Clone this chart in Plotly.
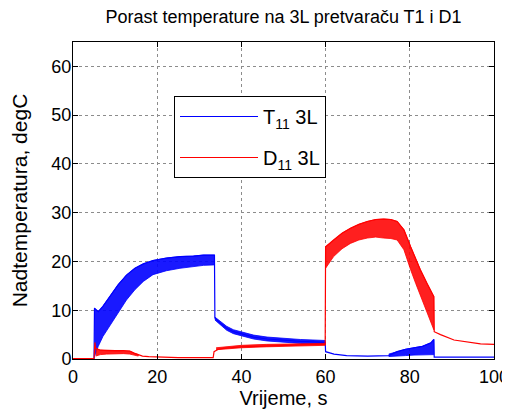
import plotly.graph_objects as go

# ---------------- data ----------------
x_ticks = [0, 20, 40, 60, 80, 100]
x_tick_labels = ["0", "20", "40", "60", "80", "100"]
y_ticks = [0, 10, 20, 30, 40, 50, 60]
y_tick_labels = ["0", "10", "20", "30", "40", "50", "60"]

series_names = ["T<sub>11</sub> 3L", "D<sub>11</sub> 3L"]

# T11 3L (blue) - main trace path
T11_t = [0, 5.0, 5.1, 6.0, 7.1, 8.7, 10.7, 12.7, 14.7, 16.7, 19.0, 22.2, 25.4, 28.6, 31.0, 33.6,
         33.7, 34.9, 36.5, 38.1, 40.1, 42.9, 46.1, 50.0, 54.0, 59.9,
         60.0, 62.0, 65.0, 70.0, 75.0, 77.0, 79.0, 81.0, 83.0, 85.0, 85.7, 85.8, 100.0]
T11_y = [0.1, 0.1, 10.4, 9.7, 10.8, 12.8, 15.2, 17.2, 18.6, 19.5, 20.2, 20.7, 21.0, 21.1, 21.3, 21.3,
         8.4, 7.4, 6.3, 5.6, 5.1, 4.5, 4.1, 3.8, 3.6, 3.4,
         1.5, 1.0, 0.7, 0.6, 0.7, 1.5, 2.0, 2.3, 2.6, 3.3, 4.0, 0.4, 0.4]

# T11 oscillation bands (time, upper envelope, lower envelope)
T11_band1_t = [5.1, 6.0, 7.1, 8.7, 10.7, 12.7, 14.7, 16.7, 19.0, 22.2, 25.4, 28.6, 31.0, 33.6]
T11_band1_hi = [10.4, 9.7, 10.8, 12.8, 15.2, 17.2, 18.6, 19.5, 20.2, 20.7, 21.0, 21.1, 21.3, 21.3]
T11_band1_lo = [0.5, 2.6, 4.6, 6.7, 9.4, 12.1, 14.2, 15.9, 17.3, 18.1, 18.6, 19.0, 19.2, 19.3]

T11_band2_t = [33.7, 34.9, 36.5, 38.1, 40.1, 42.9, 46.1, 50.0, 54.0, 59.9]
T11_band2_hi = [8.6, 7.8, 6.7, 6.0, 5.5, 4.9, 4.5, 4.2, 4.0, 3.8]
T11_band2_lo = [8.0, 7.0, 5.9, 5.2, 4.7, 4.1, 3.7, 3.4, 3.2, 3.0]

T11_band3_t = [75.0, 77.0, 79.0, 81.0, 83.0, 85.0, 85.7]
T11_band3_hi = [1.0, 1.5, 2.0, 2.3, 2.6, 3.3, 4.0]
T11_band3_lo = [0.5, 0.6, 0.7, 0.8, 0.8, 0.9, 0.9]

# D11 3L (red) - main trace path
D11_t = [0, 5.0, 5.2, 5.4, 6.5, 8.0, 10.0, 12.0, 13.5, 14.5, 15.5, 16.5, 18.0, 20.0, 25.0, 33.3,
         33.5, 34.5, 36.0, 40.0, 46.0, 54.0, 59.9,
         60.0, 61.9, 63.9, 65.9, 67.9, 69.9, 71.9, 73.8, 75.5, 77.0, 78.6, 80.2, 81.4, 82.5, 84.1, 85.7,
         85.8, 87.3, 90.5, 93.7, 96.8, 100.0]
D11_y = [0.1, 0.1, 3.4, 2.2, 1.8, 1.7, 1.7, 1.7, 1.6, 1.2, 0.9, 0.6, 0.5, 0.4, 0.3, 0.3,
         1.5, 2.0, 2.2, 2.5, 2.7, 2.9, 3.0,
         23.0, 24.4, 25.8, 26.8, 27.6, 28.2, 28.6, 28.7, 28.6, 28.2, 26.5, 23.0, 20.5, 18.3, 15.5, 12.8,
         5.6, 5.0, 3.9, 3.5, 3.1, 3.0]

D11_band1_t = [5.4, 6.5, 8.0, 10.0, 12.0, 13.5, 14.5, 15.5]
D11_band1_hi = [2.2, 1.8, 1.7, 1.7, 1.7, 1.6, 1.2, 0.9]
D11_band1_lo = [0.6, 0.9, 1.0, 1.1, 1.1, 1.0, 0.8, 0.6]

D11_band2_t = [34.0, 40.0, 46.0, 54.0, 59.9]
D11_band2_hi = [2.3, 2.8, 3.0, 3.1, 3.2]
D11_band2_lo = [1.9, 2.3, 2.5, 2.7, 2.8]

D11_band3_t = [60.0, 61.9, 63.9, 65.9, 67.9, 69.9, 71.9, 73.8, 75.5, 77.0, 78.6, 80.2, 81.4, 82.5, 84.1, 85.7]
D11_band3_hi = [23.0, 24.4, 25.8, 26.8, 27.6, 28.2, 28.6, 28.7, 28.6, 28.2, 26.5, 23.0, 20.5, 18.3, 15.5, 12.8]
D11_band3_lo = [18.6, 21.0, 22.6, 23.7, 24.4, 24.8, 25.0, 24.8, 24.7, 24.4, 22.4, 18.3, 15.5, 12.8, 9.5, 6.0]

BLUE = "#0000FF"
RED = "#FF0000"
FONT = "Liberation Sans, Arial, sans-serif"

# the page body adds an 8 px offset; the layout compensates for it
PAGE_OFFSET = 8
PLOT_L, PLOT_R, PLOT_T, PLOT_B = 73, 494, 42, 359  # target plot box in the window

fig = go.Figure()


def add_band(t, hi, lo, color, fillcolor):
    fig.add_trace(go.Scatter(
        x=list(t) + list(t)[::-1],
        y=list(hi) + list(lo)[::-1],
        mode="lines", fill="toself", fillcolor=fillcolor,
        line=dict(color=color, width=0.8),
        showlegend=False, hoverinfo="skip"))


# blue first (MATLAB plot order), red on top
add_band(T11_band1_t, T11_band1_hi, T11_band1_lo, BLUE, "rgba(0,0,255,0.9)")
add_band(T11_band2_t, T11_band2_hi, T11_band2_lo, BLUE, "rgba(0,0,255,0.9)")
add_band(T11_band3_t, T11_band3_hi, T11_band3_lo, BLUE, "rgba(0,0,255,0.9)")
fig.add_trace(go.Scatter(x=T11_t, y=T11_y, mode="lines", name=series_names[0],
                         line=dict(color=BLUE, width=1.2), legendgroup="a"))

add_band(D11_band1_t, D11_band1_hi, D11_band1_lo, RED, "rgba(255,0,0,0.88)")
add_band(D11_band2_t, D11_band2_hi, D11_band2_lo, RED, "rgba(255,0,0,0.88)")
add_band(D11_band3_t, D11_band3_hi, D11_band3_lo, RED, "rgba(255,0,0,0.88)")
fig.add_trace(go.Scatter(x=D11_t, y=D11_y, mode="lines", name=series_names[1],
                         line=dict(color=RED, width=1.2), legendgroup="b"))

axis_common = dict(
    showline=True, linecolor="black", linewidth=1, mirror="allticks",
    ticks="inside", ticklen=5, tickcolor="black", tickwidth=1,
    showgrid=True, gridcolor="#8c8c8c", griddash="dot", gridwidth=1,
    zeroline=False, automargin=False,
    tickfont=dict(size=18, color="black", family=FONT),
)

W, H = 510, 415
ml = PLOT_L - PAGE_OFFSET
mt = PLOT_T - PAGE_OFFSET
mr = W - (PLOT_R - PAGE_OFFSET)
mb = H - (PLOT_B - PAGE_OFFSET)
plot_w = PLOT_R - PLOT_L
plot_h = PLOT_B - PLOT_T

fig.update_layout(
    width=W, height=H,
    margin=dict(l=ml, r=mr, t=mt, b=mb),
    paper_bgcolor="white", plot_bgcolor="white",
    font=dict(family=FONT, color="black"),
    title=dict(text="Porast temperature na 3L pretvaraču T1 i D1",
               x=((PLOT_L + PLOT_R) / 2 - PAGE_OFFSET) / W, xanchor="center",
               y=1 - (17 - PAGE_OFFSET) / H, yanchor="middle", yref="container",
               font=dict(size=18, family=FONT, color="black")),
    xaxis=dict(range=[0, 100], tickvals=x_ticks, ticktext=x_tick_labels,
               ticklabelstandoff=1,
               title=dict(text="Vrijeme, s", font=dict(size=20, family=FONT), standoff=3),
               **axis_common),
    yaxis=dict(range=[0, 65], tickvals=y_ticks, ticktext=y_tick_labels,
               ticklabelstandoff=-3,
               title=dict(text="Nadtemperatura, degC", font=dict(size=21, family=FONT), standoff=20),
               **axis_common),
    legend=dict(x=(174 - PLOT_L) / plot_w, y=(PLOT_B - 96) / plot_h, xanchor="left", yanchor="top",
                bgcolor="white", bordercolor="black", borderwidth=1,
                font=dict(size=20, family=FONT, color="black"),
                tracegroupgap=12, itemwidth=78),
    showlegend=True,
)

fig.write_html("out.html")
